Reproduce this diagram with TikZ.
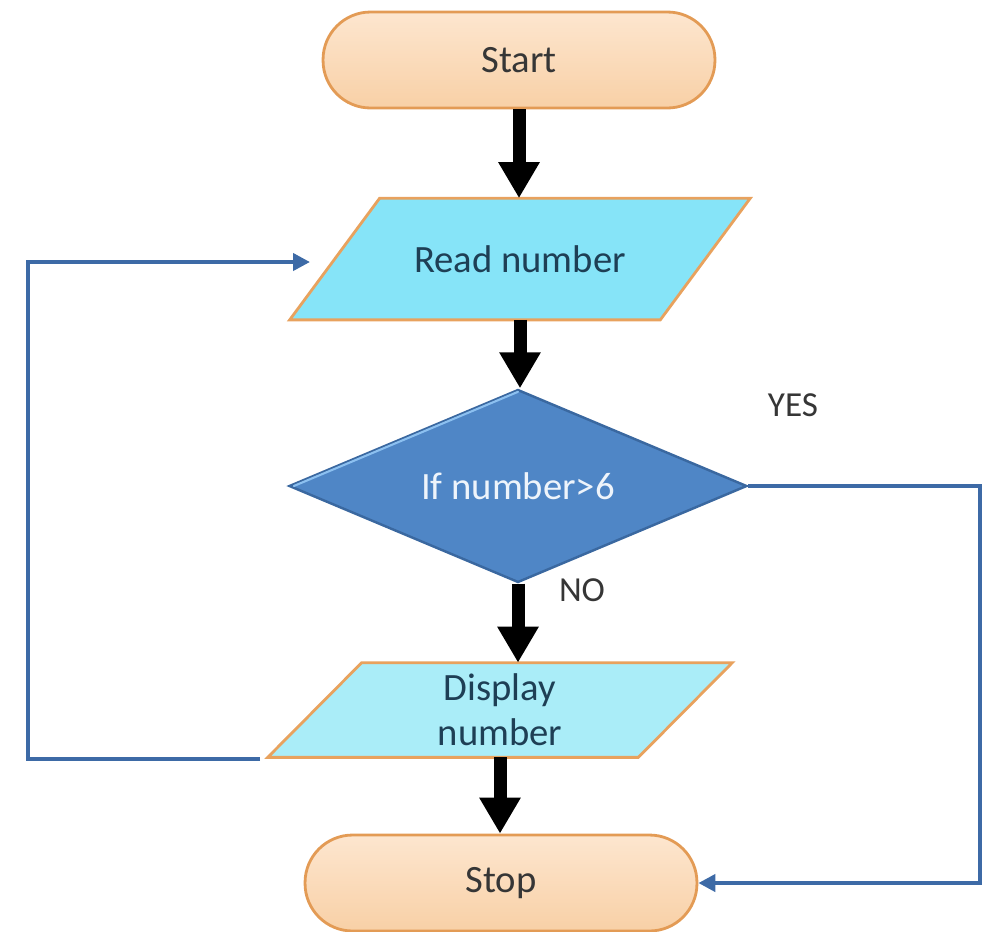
\documentclass[tikz,border=0pt]{standalone}
\usepackage{fontspec}
\setmainfont{Carlito}
\usetikzlibrary{shapes.geometric,arrows.meta,backgrounds}

\definecolor{peachtop}{HTML}{FDE6CF}
\definecolor{peachbot}{HTML}{F8D0A6}
\definecolor{termedge}{HTML}{E39B55}
\definecolor{textgray}{HTML}{363636}
\definecolor{readfill}{HTML}{86E4F8}
\definecolor{dispfill}{HTML}{AAEDF8}
\definecolor{ioedge}{HTML}{E8A25E}
\definecolor{ionavy}{HTML}{1E3F55}
\definecolor{decfill}{HTML}{4F86C6}
\definecolor{decedge}{HTML}{3A68A0}
\definecolor{dechigh}{HTML}{8CC0F0}
\definecolor{dectext}{HTML}{EEF4FB}
\definecolor{loopblue}{HTML}{3D6AA6}

\begin{document}
\begin{tikzpicture}[x=0.02cm,y=-0.02cm,
  term/.style={draw=termedge, line width=1.6pt, top color=peachtop, bottom color=peachbot,
    rounded corners=0.95cm, minimum width=7.84cm, minimum height=1.92cm,
    font=\fontsize{22}{26}\selectfont, text=textgray},
  iotext/.style={minimum width=7.4cm, inner sep=0pt, align=center,
    font=\fontsize{22}{25.5}\selectfont, text=ionavy},
  ioshape/.style={draw=ioedge, line width=1.6pt, line join=miter},
  decision/.style={diamond, aspect=2.4, draw=decedge, line width=1.4pt, fill=decfill,
    minimum width=9.16cm, minimum height=3.86cm, inner sep=0pt,
    font=\fontsize{22}{26}\selectfont, text=dectext},
  flow/.style={line width=7.4pt, draw=black, -{Triangle[width=0.78cm,length=0.72cm]}},
  loopline/.style={line width=2.3pt, draw=loopblue, -{Triangle[width=0.34cm,length=0.34cm]}},
  lbl/.style={font=\fontsize{20}{24}\selectfont, text=textgray}]
\useasboundingbox (0,0) rectangle (989,931);

% flowchart boxes
\node[term] (start) at (519,60) {Start};
\node[iotext, minimum height=2.42cm] (read) at (520,259) {Read number};
\node[decision] (dec) at (518,486) {If number>6};
\node[iotext, minimum height=1.88cm] (disp) at (500,710) {Display\\number};
\node[term] (stop) at (501,883) {Stop};

% light edge along the upper left side of the decision
\draw[dechigh, line width=1.2pt, line cap=round]
  ([xshift=0.12cm]dec.west) -- ([yshift=-0.07cm]dec.north);

% slanted input/output shapes behind their texts
\begin{scope}[on background layer]
  \filldraw[ioshape, fill=readfill]
    ([xshift=0.9cm]read.north west) -- ([xshift=0.9cm]read.north east)
    -- ([xshift=-0.9cm]read.south east) -- ([xshift=-0.9cm]read.south west) -- cycle;
  \filldraw[ioshape, fill=dispfill]
    ([xshift=0.94cm]disp.north west) -- ([xshift=0.94cm]disp.north east)
    -- ([xshift=-0.94cm]disp.south east) -- ([xshift=-0.94cm]disp.south west) -- cycle;
\end{scope}

% main flow
\draw[flow] (start.south) -- (start.south |- read.north);
\draw[flow] (read.south) -- (read.south |- dec.north);
\draw[flow] (dec.south) -- (dec.south |- disp.north);
\draw[flow] (disp.south) -- (disp.south |- stop.north);

% branch labels
\node[lbl] (yes) at (793,405) {YES};
\node[lbl] (no) at (582,590) {NO};

% loop back to input and exit on YES
\coordinate (loopstart) at (260,759);
\coordinate (loopend) at (310,262);
\coordinate (leftx) at (28,0);
\coordinate (rightx) at (980,0);
\draw[loopline] (loopstart) -| (leftx |- loopend) -- (loopend);
\draw[loopline] (dec.east) -| (rightx |- stop.east) -- (stop.east);
\end{tikzpicture}
\end{document}
